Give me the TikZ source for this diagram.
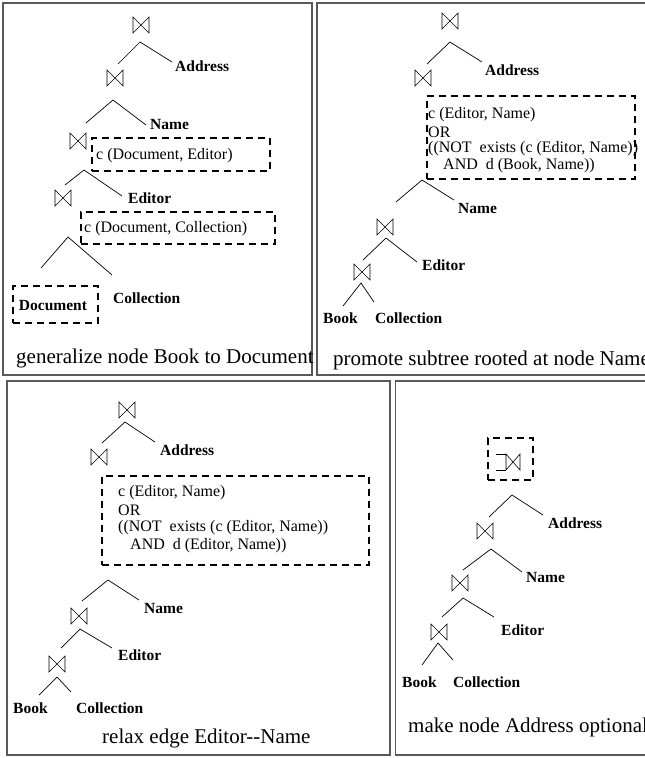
\documentclass[tikz,border=0pt]{standalone}
\usepackage{fontspec}
\setmainfont{Liberation Serif}
% two branches from one apex: apex, left end, right end
\newcommand{\treefork}[3]{\draw[edge] (#2) -- (#1) -- (#3);}
\begin{document}
\begin{tikzpicture}[x=1pt,y=-1pt,
  frame/.style={draw=black!65, line width=1.1pt},
  jn/.style={minimum width=16pt, minimum height=16pt, inner sep=0pt, outer sep=0pt},
  edge/.style={line width=0.7pt},
  hint/.style={draw, line width=1.6pt, dash pattern=on 7pt off 5pt, inner sep=0pt},
  lbl/.style={anchor=west, inner sep=0pt, font=\fontsize{15.5}{18}\selectfont\bfseries},
  cond/.style={anchor=west, inner sep=0pt, font=\fontsize{16}{18}\selectfont},
  caption/.style={anchor=west, inner sep=0pt, font=\fontsize{21}{24}\selectfont}]
\useasboundingbox (0,0) rectangle (645,758);
\clip (0,0) rectangle (645,758);

% ---------------- panel 1: generalize ----------------
\draw[frame] (3,3) rectangle (312,375);
\node[jn] (j11) at (141,25) {};
\coordinate (a11) at (140,42); \coordinate (l11) at (118,64); \coordinate (r11) at (172,62);
\treefork{a11}{l11}{r11}
\node[lbl] (addr1) at (175,66) {Address};
\node[jn] (j12) at (115,78) {};
\coordinate (a12) at (113,100); \coordinate (l12) at (86,123); \coordinate (r12) at (146,125);
\treefork{a12}{l12}{r12}
\node[lbl] (name1) at (150,124) {Name};
\node[jn] (j13) at (78,141) {};
\node[hint, minimum width=178pt, minimum height=33pt] (b11) at (181,154.5) {};
\node[cond] (c11) at (96,156) {c (Document, Editor)};
\coordinate (a13) at (84,170); \coordinate (l13) at (65,185); \coordinate (r13) at (122,196);
\treefork{a13}{l13}{r13}
\node[lbl] (ed1) at (128,198) {Editor};
\node[jn] (j14) at (63,198) {};
\node[hint, minimum width=194pt, minimum height=32pt] (b12) at (178,228) {};
\node[cond] (c12) at (84,229) {c (Document, Collection)};
\coordinate (a14) at (68,237); \coordinate (l14) at (41,268); \coordinate (r14) at (112,275);
\treefork{a14}{l14}{r14}
\node[hint, minimum width=85pt, minimum height=37pt] (b13) at (55.5,304.5) {};
\node[lbl, anchor=center] (doc1) at (53,306) {Document};
\node[lbl] (col1) at (113,298) {Collection};
\node[caption] (cap1) at (16,358) {generalize node Book to Document};

% ---------------- panel 2: promote ----------------
\draw[frame] (317,3) rectangle (660,375);
\node[jn] (j21) at (450,21) {};
\coordinate (a21) at (450,42); \coordinate (l21) at (427,64); \coordinate (r21) at (482,62);
\treefork{a21}{l21}{r21}
\node[lbl] (addr2) at (485,70) {Address};
\node[jn] (j22) at (423,78) {};
\node[hint, minimum width=208pt, minimum height=83pt] (b21) at (531,137.5) {};
\node[cond] (c21) at (428,115) {c (Editor, Name)};
\node[cond] (c22) at (428,132) {OR};
\node[cond] (c23) at (428,149) {((NOT\ \ exists (c (Editor, Name))};
\node[cond] (c24) at (443,166) {AND\ \ d (Book, Name))};
\coordinate (a22) at (422,180); \coordinate (l22) at (396,202); \coordinate (r22) at (454,200);
\treefork{a22}{l22}{r22}
\node[lbl] (name2) at (458,208) {Name};
\node[jn] (j23) at (385,227) {};
\coordinate (a23) at (386,238); \coordinate (l23) at (363,260); \coordinate (r23) at (417,262);
\treefork{a23}{l23}{r23}
\node[lbl] (ed2) at (422,265) {Editor};
\node[jn] (j24) at (362,272) {};
\coordinate (a24) at (361,283); \coordinate (l24) at (343,306); \coordinate (r24) at (374,302);
\treefork{a24}{l24}{r24}
\node[lbl] (book2) at (323,318) {Book};
\node[lbl] (col2) at (375,318) {Collection};
\node[caption] (cap2) at (333,360) {promote subtree rooted at node Name};

% ---------------- panel 3: relax ----------------
\draw[frame] (7,381) rectangle (390,755);
\node[jn] (j31) at (127,410) {};
\coordinate (a31) at (125,422); \coordinate (l31) at (102,443); \coordinate (r31) at (155,442);
\treefork{a31}{l31}{r31}
\node[lbl] (addr3) at (160,450) {Address};
\node[jn] (j32) at (99,457) {};
\node[hint, minimum width=267pt, minimum height=89pt] (b31) at (235.5,520.5) {};
\node[cond] (c31) at (118,493) {c (Editor, Name)};
\node[cond] (c32) at (118,510.5) {OR};
\node[cond] (c33) at (118,528) {((NOT\ \ exists (c (Editor, Name))};
\node[cond] (c34) at (130,546) {AND\ \ d (Editor, Name))};
\coordinate (a32) at (108,580); \coordinate (l32) at (82,601); \coordinate (r32) at (139,600);
\treefork{a32}{l32}{r32}
\node[lbl] (name3) at (144,608) {Name};
\node[jn] (j33) at (79,616) {};
\coordinate (a33) at (80,629); \coordinate (l33) at (61,648); \coordinate (r33) at (112,648);
\treefork{a33}{l33}{r33}
\node[lbl] (ed3) at (118,655) {Editor};
\node[jn] (j34) at (57,664) {};
\coordinate (a34) at (57,677); \coordinate (l34) at (39,695); \coordinate (r34) at (71,692);
\treefork{a34}{l34}{r34}
\node[lbl] (book3) at (13,708) {Book};
\node[lbl] (col3) at (76,708) {Collection};
\node[caption] (cap3) at (102,738) {relax edge Editor-{}-Name};

% ---------------- panel 4: optional ----------------
\draw[frame] (395.5,381) rectangle (660,755);
\node[hint, minimum width=45pt, minimum height=42pt] (b41) at (510.5,459) {};
\node[jn, minimum width=14pt] (j41) at (513,462) {};
\draw[line width=0.6pt] (j41.north west) -- ++(-10,0) (j41.south west) -- ++(-10,0);
\coordinate (a41) at (512,495); \coordinate (l41) at (489,517); \coordinate (r41) at (543,515);
\treefork{a41}{l41}{r41}
\node[lbl] (addr4) at (548,523) {Address};
\node[jn] (j42) at (485,531) {};
\coordinate (a42) at (491,549); \coordinate (l42) at (463,570); \coordinate (r42) at (522,572);
\treefork{a42}{l42}{r42}
\node[lbl] (name4) at (526,577) {Name};
\node[jn] (j43) at (460,583) {};
\coordinate (a43) at (463,598); \coordinate (l43) at (442,617); \coordinate (r43) at (494,617);
\treefork{a43}{l43}{r43}
\node[lbl] (ed4) at (501,630) {Editor};
\node[jn] (j44) at (439,632) {};
\coordinate (a44) at (438,643); \coordinate (l44) at (422,665); \coordinate (r44) at (453,660);
\treefork{a44}{l44}{r44}
\node[lbl] (book4) at (402,682) {Book};
\node[lbl] (col4) at (453,682) {Collection};
\node[caption] (cap4) at (408,727) {make node Address optional};

% join symbols drawn inside their nodes
\foreach \n in {j11,j12,j13,j14,j21,j22,j23,j24,j31,j32,j33,j34,j41,j42,j43,j44}
  \draw[line width=0.6pt] (\n.north west) -- (\n.south east) -- (\n.north east) -- (\n.south west) -- cycle;
\end{tikzpicture}
\end{document}
